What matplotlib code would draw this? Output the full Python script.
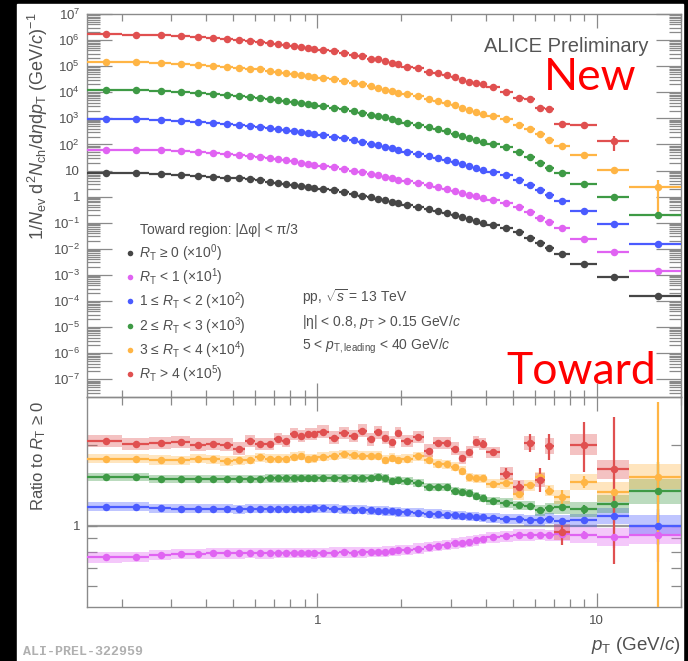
import numpy as np
import matplotlib
matplotlib.use('Agg')
import matplotlib.pyplot as plt
from matplotlib.lines import Line2D
from matplotlib.patches import Rectangle
from matplotlib.ticker import LogLocator, FixedLocator, NullFormatter, FuncFormatter, FixedFormatter

plt.rcParams['font.family'] = ['Liberation Sans', 'DejaVu Sans']
plt.rcParams['mathtext.fontset'] = 'custom'
plt.rcParams['mathtext.rm'] = 'Liberation Sans'
plt.rcParams['mathtext.it'] = 'Liberation Sans:italic'
plt.rcParams['mathtext.bf'] = 'Liberation Sans:bold'
plt.rcParams['mathtext.sf'] = 'Liberation Sans'

# ---------------- data ----------------
pt_edges = [0.15, 0.2, 0.25, 0.3, 0.35, 0.4, 0.45, 0.5, 0.55, 0.6, 0.65, 0.7, 0.75, 0.8,
            0.85, 0.9, 0.95, 1.0, 1.1, 1.2, 1.3, 1.4, 1.5, 1.6, 1.7, 1.8, 1.9, 2.0, 2.2,
            2.4, 2.6, 2.8, 3.0, 3.2, 3.4, 3.6, 3.8, 4.0, 4.5, 5.0, 5.5, 6.0, 6.5, 7.0,
            8.0, 10.0, 13.0, 20.0]

# R_T >= 0 reference spectrum, 1/Nev d2N/deta dpT
ref_spectrum = [8.13, 7.94, 7.59, 6.92, 6.31, 5.89, 5.37, 5.01, 4.57, 4.17, 3.80, 3.47,
                3.16, 2.82, 2.57, 2.34, 2.14, 1.95, 1.74, 1.48, 1.26, 1.10, 0.933, 0.813,
                0.724, 0.631, 0.550, 0.468, 0.389, 0.324, 0.275, 0.234, 0.195, 0.162,
                0.135, 0.115, 0.102, 0.0851, 0.0646, 0.0427, 0.0269, 0.0170, 0.0112,
                0.0066, 0.00269, 0.000813, 0.000151]
ref_stat_rel = [0.005] * 44 + [0.01, 0.02, 0.05]

# ratios to R_T >= 0
ratio_lt1 = [0.763, 0.767, 0.780, 0.785, 0.788, 0.790, 0.790, 0.790, 0.791, 0.790, 0.790,
             0.791, 0.792, 0.792, 0.792, 0.791, 0.790, 0.793, 0.795, 0.797, 0.795, 0.797,
             0.800, 0.800, 0.802, 0.806, 0.810, 0.814, 0.823, 0.834, 0.840, 0.847, 0.860,
             0.866, 0.874, 0.883, 0.893, 0.905, 0.913, 0.925, 0.925, 0.928, 0.922, 0.930,
             0.925, 0.910, 0.925]
ratio_1to2 = [1.178, 1.178, 1.160, 1.155, 1.155, 1.155, 1.155, 1.152, 1.155, 1.155, 1.155,
              1.158, 1.155, 1.155, 1.155, 1.158, 1.160, 1.160, 1.155, 1.150, 1.148, 1.148,
              1.140, 1.138, 1.135, 1.130, 1.125, 1.120, 1.116, 1.110, 1.105, 1.100, 1.092,
              1.088, 1.083, 1.080, 1.076, 1.068, 1.060, 1.058, 1.046, 1.050, 1.062, 1.040,
              1.046, 1.085, 1.000]
ratio_2to3 = [1.518, 1.510, 1.490, 1.490, 1.490, 1.488, 1.490, 1.492, 1.495, 1.495, 1.497,
              1.497, 1.497, 1.497, 1.500, 1.500, 1.500, 1.500, 1.500, 1.497, 1.500, 1.497,
              1.500, 1.510, 1.497, 1.467, 1.475, 1.460, 1.435, 1.390, 1.387, 1.387, 1.340,
              1.330, 1.318, 1.292, 1.264, 1.239, 1.215, 1.190, 1.188, 1.140, 1.160, 1.170,
              1.150, 1.200, 1.340]
ratio_3to4 = [1.774, 1.774, 1.753, 1.749, 1.774, 1.763, 1.738, 1.749, 1.760, 1.796, 1.774,
              1.770, 1.774, 1.800, 1.820, 1.775, 1.780, 1.800, 1.820, 1.840, 1.830, 1.820,
              1.820, 1.820, 1.760, 1.790, 1.760, 1.770, 1.810, 1.760, 1.700, 1.690, 1.655,
              1.600, 1.510, 1.500, 1.500, 1.430, 1.435, 1.310, 1.410, 1.510, 1.350, 1.275,
              1.454, 1.330, 1.520]
ratio_gt4 = [2.06, 2.01, 2.03, 2.04, 2.00, 2.01, 2.00, 1.93, 2.06, 2.01, 2.01, 2.10, 2.06,
             2.19, 2.15, 2.19, 2.19, 2.23, 2.12, 2.21, 2.15, 2.25, 2.09, 2.22, 2.12, 2.04,
             2.21, 2.06, 2.13, 1.90, 2.03, 2.03, 1.93, 1.79, 1.876, 2.04, 2.01, 1.87, 1.56,
             1.39, 2.03, 1.48, 1.97, 0.95, 2.00, 1.62, np.nan]

# statistical uncertainties on the ratios (absolute)
stat_lt1 = [0.01] * 42 + [0.02, 0.03, 0.03, 0.08, 0.19]
stat_1to2 = [0.01] * 42 + [0.02, 0.03, 0.03, 0.06, 0.15]
stat_2to3 = [0.01] * 42 + [0.02, 0.03, 0.04, 0.08, 0.38]
stat_3to4 = [0.01] * 39 + [0.03, 0.03, 0.06, 0.05, 0.08, 0.07, 0.20, 1.35]
stat_gt4 = [0.02] * 33 + [0.04, 0.04, 0.06, 0.06, 0.05, 0.07, 0.08, 0.15, 0.15, 0.22,
                          0.10, 0.42, 0.90, np.nan]

# systematic uncertainties on the ratios (relative)
syst_lt1 = [0.045] * 37 + [0.045, 0.045, 0.05, 0.05, 0.05, 0.05, 0.06, 0.07, 0.08, 0.085]
syst_1to2 = [0.04] * 37 + [0.04, 0.04, 0.045, 0.045, 0.05, 0.05, 0.055, 0.06, 0.07, 0.095]
syst_2to3 = [0.035] * 37 + [0.035, 0.04, 0.04, 0.04, 0.045, 0.05, 0.055, 0.065, 0.08, 0.115]
syst_3to4 = [0.04] * 37 + [0.04, 0.045, 0.05, 0.05, 0.05, 0.05, 0.06, 0.07, 0.09, 0.115]
syst_gt4 = [0.055] * 37 + [0.05, 0.06, 0.06, 0.06, 0.06, 0.07, 0.07, 0.095, 0.085, np.nan]

class_labels = [r"$R_{\mathrm{T}}$ ≥ 0 (×10$^{0}$)",
                r"$R_{\mathrm{T}}$ < 1 (×10$^{1}$)",
                r"1 ≤ $R_{\mathrm{T}}$ < 2 (×10$^{2}$)",
                r"2 ≤ $R_{\mathrm{T}}$ < 3 (×10$^{3}$)",
                r"3 ≤ $R_{\mathrm{T}}$ < 4 (×10$^{4}$)",
                r"$R_{\mathrm{T}}$ > 4 (×10$^{5}$)"]
class_scales = [1, 10, 1e2, 1e3, 1e4, 1e5]
class_colors = ['#464646', '#e063f2', '#4a5bff', '#3e9a45', '#ffb545', '#e05050']

# ---------------- derived ----------------
edges = np.array(pt_edges)
lo, hi = edges[:-1], edges[1:]
cen = 0.5 * (lo + hi)
xerr = [cen - lo, hi - cen]
ref = np.array(ref_spectrum)

ratios = [np.ones_like(ref), np.array(ratio_lt1), np.array(ratio_1to2),
          np.array(ratio_2to3), np.array(ratio_3to4), np.array(ratio_gt4)]
stats = [np.array(ref_stat_rel), np.array(stat_lt1), np.array(stat_1to2),
         np.array(stat_2to3), np.array(stat_3to4), np.array(stat_gt4)]
systs = [None, np.array(syst_lt1), np.array(syst_1to2), np.array(syst_2to3),
         np.array(syst_3to4), np.array(syst_gt4)]

W, H = 688, 661
fig = plt.figure(figsize=(W / 100, H / 100), dpi=100)
fig.patch.set_facecolor('black')
fig.add_artist(Rectangle((17 / W, 0), (683 - 17) / W, 1 - 4 / H,
                         transform=fig.transFigure, color='white', zorder=-10))

def px_axes(l, t, r, b):
    return fig.add_axes([l / W, 1 - b / H, (r - l) / W, (b - t) / H])

ax = px_axes(87, 14, 681, 397)
axr = px_axes(87, 397, 681, 607)

txt = '#505050'
frame = '#8a8a8a'
for a in (ax, axr):
    a.set_facecolor('none')
    a.set_xscale('log')
    a.set_yscale('log')
    a.set_xlim(0.15, 20)
    for s in a.spines.values():
        s.set_color(frame)
        s.set_linewidth(1.0)
    a.tick_params(which='both', direction='in', top=True, right=True, color=frame,
                  labelcolor=txt, labelsize=9.5, width=0.9)
    a.xaxis.set_major_locator(FixedLocator([1, 10]))
    a.xaxis.set_minor_locator(FixedLocator([0.2, 0.3, 0.4, 0.5, 0.6, 0.7, 0.8, 0.9,
                                            2, 3, 4, 5, 6, 7, 8, 9, 20]))
    a.xaxis.set_minor_formatter(NullFormatter())

# ---- top panel ----
ax.set_ylim(2.1e-8, 1e7)
ax.yaxis.set_major_locator(LogLocator(base=10, numticks=30))
ax.yaxis.set_minor_locator(LogLocator(base=10, subs=np.arange(2, 10), numticks=30))
ax.yaxis.set_minor_formatter(NullFormatter())

def ylab(v, pos):
    k = int(round(np.log10(v)))
    if k == 0:
        return '1'
    if k == 1:
        return '10'
    return r'$10^{%d}$' % k
ax.yaxis.set_major_formatter(FuncFormatter(ylab))
ax.tick_params(axis='y', which='major', length=18, pad=5)
ax.tick_params(axis='y', which='minor', length=9)
ax.tick_params(axis='x', which='major', length=10, labelbottom=False)
ax.tick_params(axis='x', which='minor', length=5)

for i in range(6):
    r = ratios[i]
    y = ref * r * class_scales[i]
    yerr = y * stats[i] / r
    ax.errorbar(cen, y, xerr=xerr, yerr=yerr, fmt='o', color=class_colors[i], ms=5.4,
                elinewidth=1.6, capsize=0, mew=0, zorder=3)

ax.set_ylabel(r"1/$N_{\mathrm{ev}}$ d$^{2}$$N_{\mathrm{ch}}$/d$\eta$d$p_{\mathrm{T}}$ (GeV/$c$)$^{-1}$",
              fontsize=13, color=txt, loc='top')
ax.yaxis.label.set_rotation_mode('default')
ax.yaxis.label.set_ha('center')
ax.yaxis.label.set_va('top')
ax.yaxis.set_label_coords(-0.082, 1.005)

ax.text(0.946, 0.915, 'ALICE Preliminary', transform=ax.transAxes, ha='right', va='center',
        fontsize=14.5, color='#555555')
ax.text(0.847, 0.835, 'New', transform=ax.transAxes, ha='center', va='center',
        fontsize=32, color='#ff0000', family=['Lato', 'DejaVu Sans'])
ax.text(0.832, 0.067, 'Toward', transform=ax.transAxes, ha='center', va='center',
        fontsize=32, color='#ff0000', family=['Lato', 'DejaVu Sans'])

ax.text(0.09, 0.437, 'Toward region: |Δφ| < π/3', transform=ax.transAxes, ha='left',
        va='center', fontsize=10, color=txt)
handles = [Line2D([], [], ls='none', marker='o', ms=4, color=c, mew=0) for c in class_colors]
leg = ax.legend(handles, class_labels, loc='upper left', bbox_to_anchor=(0.067, 0.404),
                frameon=False, fontsize=10, handlelength=0.5, handletextpad=0.35,
                labelspacing=0.19, borderaxespad=0, borderpad=0)
for t in leg.get_texts():
    t.set_color(txt)

ax.text(0.362, 0.262, r'pp, $\sqrt{s}$ = 13 TeV', transform=ax.transAxes, ha='left',
        va='center', fontsize=10, color=txt)
ax.text(0.362, 0.197, r'|η| < 0.8, $p_{\mathrm{T}}$ > 0.15 GeV/$c$', transform=ax.transAxes,
        ha='left', va='center', fontsize=10, color=txt)
ax.text(0.362, 0.133, r'5 < $p_{\mathrm{T,leading}}$ < 40 GeV/$c$', transform=ax.transAxes,
        ha='left', va='center', fontsize=10, color=txt)

# ---- ratio panel ----
axr.set_ylim(0.5, 3.0)
axr.yaxis.set_major_locator(FixedLocator([1]))
axr.yaxis.set_major_formatter(FixedFormatter(['1']))
axr.yaxis.set_minor_locator(FixedLocator([0.6, 0.7, 0.8, 0.9, 2]))
axr.yaxis.set_minor_formatter(NullFormatter())
axr.xaxis.set_major_formatter(FixedFormatter(['1', '10']))
axr.tick_params(axis='y', which='both', length=7, pad=5)
axr.tick_params(axis='x', which='major', length=10, pad=6)
axr.tick_params(axis='x', which='minor', length=6)
axr.axhline(1, color='#999999', lw=1.6, zorder=1)

for i in range(1, 6):
    r = ratios[i]
    s = systs[i]
    ok = ~np.isnan(r)
    top = r * (1 + s)
    bot = r / (1 + s)
    axr.bar(lo[ok], (top - bot)[ok], bottom=bot[ok], width=(hi - lo)[ok], align='edge',
            color=class_colors[i], alpha=0.35, lw=0, zorder=2)
    axr.errorbar(cen[ok], r[ok], xerr=[xerr[0][ok], xerr[1][ok]], yerr=stats[i][ok], fmt='o',
                 color=class_colors[i], ms=5.4, elinewidth=1.6, capsize=0, mew=0, zorder=3)

axr.set_ylabel(r'Ratio to $R_{\mathrm{T}}$ ≥ 0', fontsize=12, color=txt, loc='top')
axr.yaxis.label.set_rotation_mode('default')
axr.yaxis.label.set_ha('center')
axr.yaxis.label.set_va('top')
axr.yaxis.set_label_coords(-0.082, 0.985)

axr.set_xlabel(r'$p_{\mathrm{T}}$ (GeV/$c$)', fontsize=13.5, color=txt, loc='right')
axr.xaxis.set_label_coords(1.0, -0.135)
axr.xaxis.label.set_va('top')

fig.text(23 / W, 1 - 652 / H, 'ALI-PREL-322959', ha='left', va='center', fontsize=9.5,
         color='#b0b0b0', family='Liberation Mono', weight='bold')

fig.savefig('out.png', dpi=100, facecolor=fig.get_facecolor())
